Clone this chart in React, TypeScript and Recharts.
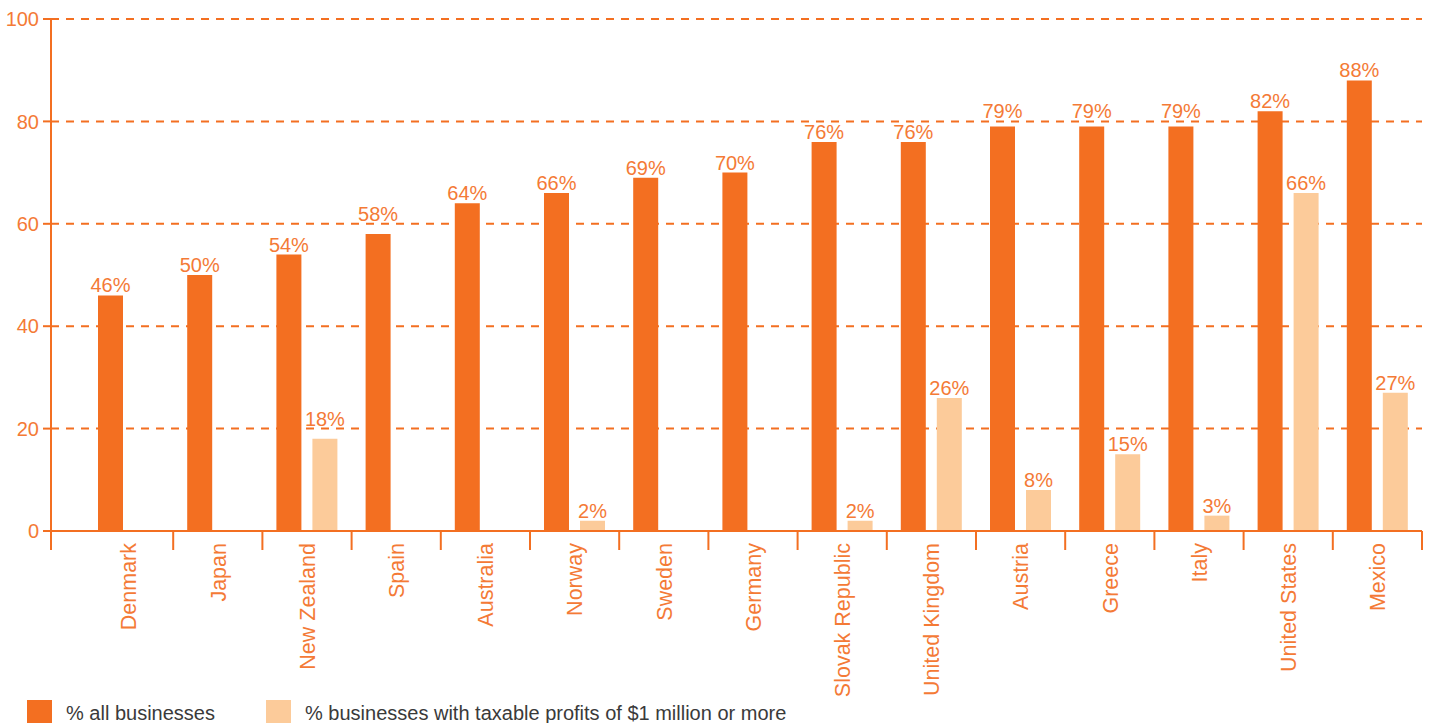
import React from "react";
import {
  BarChart,
  Bar,
  XAxis,
  YAxis,
  CartesianGrid,
  LabelList,
} from "recharts";

/* ─── tokens ─────────────────────────────────────────────────────────── */
const ORANGE = "#f36f21";
const PEACH = "#fccb9a";
const TEXT_ORANGE = "#f47a36";
const LEGEND_TEXT = "#3a3a3a";
const FONT = "'Liberation Sans', Arial, Helvetica, sans-serif";

const WIDTH = 1432;
const HEIGHT = 723;
const PLOT_LEFT = 51;
const PAD_LEFT = 33;

/* ─── data ───────────────────────────────────────────────────────────── */
const countries = [
  "Denmark",
  "Japan",
  "New Zealand",
  "Spain",
  "Australia",
  "Norway",
  "Sweden",
  "Germany",
  "Slovak Republic",
  "United Kingdom",
  "Austria",
  "Greece",
  "Italy",
  "United States",
  "Mexico",
];

const allBusinesses = [46, 50, 54, 58, 64, 66, 69, 70, 76, 76, 79, 79, 79, 82, 88];

const bigProfitBusinesses: (number | null)[] = [
  null, null, 18, null, null, 2, null, null, 2, 26, 8, 15, 3, 66, 27,
];

const yTicks = [0, 20, 40, 60, 80, 100];

const seriesNames = {
  all: "% all businesses",
  big: "% businesses with taxable profits of $1 million or more",
};

const data = countries.map((country, i) => ({
  country,
  all: allBusinesses[i],
  big: bigProfitBusinesses[i],
}));

/* ── value label: sits on the bar, hops above a gridline it would cross ── */
const LABEL_SIZE = 20;
const LABEL_GAP = 3;

function ValueLabel(props: any) {
  const { x, y, width, height, value } = props;
  if (value == null || !value) return null;
  const perUnit = height / value;
  let baseline = y - LABEL_GAP;
  const glyphTop = baseline - LABEL_SIZE * 0.74;
  for (const g of yTicks) {
    if (g <= 0) continue;
    const gy = y + (value - g) * perUnit;
    if (gy >= glyphTop - 1 && gy <= baseline + 1) {
      baseline = gy - LABEL_GAP;
    }
  }
  return (
    <text
      x={x + width / 2}
      y={baseline}
      textAnchor="middle"
      fill={TEXT_ORANGE}
      fontSize={LABEL_SIZE}
      fontFamily={FONT}
    >
      {`${value}%`}
    </text>
  );
}

/* ── x tick: rotated label at band centre, tick lines at band edges ── */
function CountryTick(props: any) {
  const { x, y, payload, index } = props;
  const half = payload?.offset ?? (WIDTH - 10 - PLOT_LEFT - PAD_LEFT) / 30;
  return (
    <g>
      <line x1={x + half} y1={y} x2={x + half} y2={y + 19} stroke={ORANGE} strokeWidth={2} />
      {index === 0 && (
        <line x1={PLOT_LEFT} y1={y - 1} x2={PLOT_LEFT} y2={y + 19} stroke={ORANGE} strokeWidth={2} />
      )}
      <text
        transform={`translate(${x},${y + 12}) rotate(-90)`}
        textAnchor="end"
        dy="0.36em"
        fill={TEXT_ORANGE}
        fontSize={21.5}
        fontFamily={FONT}
      >
        {payload.value}
      </text>
    </g>
  );
}

function ChartLegend() {
  const items = [
    { name: seriesNames.all, color: ORANGE, left: 27, textLeft: 66 },
    { name: seriesNames.big, color: PEACH, left: 266, textLeft: 305 },
  ];
  return (
    <>
      {items.map((it) => (
        <React.Fragment key={it.name}>
          <div
            style={{
              position: "absolute",
              left: it.left,
              top: 700,
              width: 25,
              height: 25,
              background: it.color,
            }}
          />
          <div
            style={{
              position: "absolute",
              left: it.textLeft,
              top: 700,
              fontFamily: FONT,
              fontSize: 20,
              lineHeight: "26px",
              color: LEGEND_TEXT,
              whiteSpace: "nowrap",
            }}
          >
            {it.name}
          </div>
        </React.Fragment>
      ))}
    </>
  );
}

export default function App() {
  return (
    <div
      style={{
        position: "absolute",
        left: 0,
        top: 0,
        width: WIDTH,
        height: HEIGHT,
        overflow: "hidden",
        background: "#fff",
      }}
    >
      <BarChart
        width={WIDTH}
        height={HEIGHT}
        data={data}
        margin={{ top: 19, right: 10, left: 0, bottom: 0 }}
        barSize={25}
        barGap={11}
      >
        <CartesianGrid
          vertical={false}
          stroke={ORANGE}
          strokeWidth={2}
          strokeDasharray="8 7"
        />
        <XAxis
          dataKey="country"
          interval={0}
          height={192}
          padding={{ left: PAD_LEFT, right: 0 }}
          axisLine={{ stroke: ORANGE, strokeWidth: 2 }}
          tickLine={false}
          tickSize={0}
          tickMargin={0}
          tick={<CountryTick />}
        />
        <YAxis
          domain={[0, 100]}
          ticks={yTicks}
          width={PLOT_LEFT}
          axisLine={{ stroke: ORANGE, strokeWidth: 2 }}
          tickLine={{ stroke: ORANGE, strokeWidth: 2 }}
          tickSize={8}
          tickMargin={4}
          tick={{ fill: TEXT_ORANGE, fontSize: 20, fontFamily: FONT }}
        />
        <Bar dataKey="all" name={seriesNames.all} fill={ORANGE} isAnimationActive={false}>
          <LabelList dataKey="all" content={<ValueLabel />} />
        </Bar>
        <Bar dataKey="big" name={seriesNames.big} fill={PEACH} isAnimationActive={false}>
          <LabelList dataKey="big" content={<ValueLabel />} />
        </Bar>
      </BarChart>
      <ChartLegend />
    </div>
  );
}
